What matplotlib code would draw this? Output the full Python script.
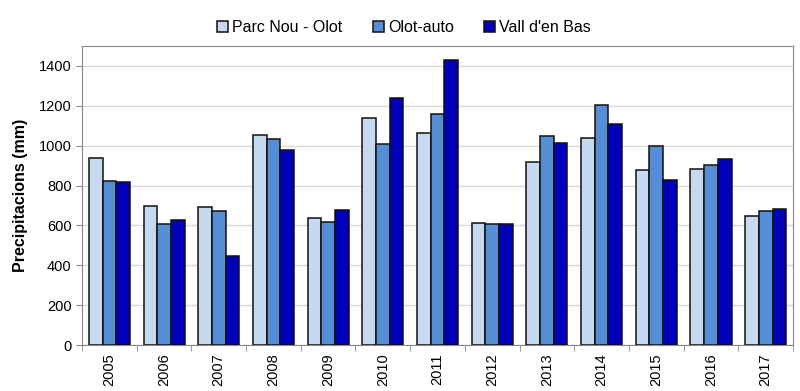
import matplotlib

matplotlib.use("Agg")

import matplotlib.pyplot as plt  # noqa: E402
import numpy as np  # noqa: E402

plt.rcParams["font.family"] = ["Liberation Sans", "DejaVu Sans"]

years = ["2005", "2006", "2007", "2008", "2009", "2010", "2011",
         "2012", "2013", "2014", "2015", "2016", "2017"]
parc_nou = [940, 699, 694, 1055, 639, 1139, 1064, 612, 917, 1039, 878, 883, 647]
olot_auto = [823, 605, 671, 1035, 619, 1007, 1157, 605, 1049, 1204, 998, 905, 674]
vall_en_bas = [816, 625, 448, 978, 677, 1241, 1432, 605, 1014, 1107, 828, 935, 684]

series = [
    ("Parc Nou - Olot", parc_nou, "#c6d9f1"),
    ("Olot-auto", olot_auto, "#558ed5"),
    ("Vall d'en Bas", vall_en_bas, "#0000bb"),
]

fig = plt.figure(figsize=(8, 3.91), dpi=100)
ax = fig.add_axes([0.1025, 0.1176, 0.8888, 0.7647])

x = np.arange(len(years))
width = 0.25
for i, (name, values, color) in enumerate(series):
    ax.bar(x + (i - 1) * width, values, width, color=color, edgecolor="#111111",
           linewidth=1.1, label=name, zorder=3)

ax.set_xlim(-0.5, len(years) - 0.5)
ax.set_ylim(0, 1500)
ax.set_yticks(range(0, 1401, 200))
ax.yaxis.grid(True, color="#d9d9d9", linewidth=1.0, zorder=0)
ax.tick_params(axis="y", labelsize=10.5, length=4, color="#888888")

ax.set_xticks(x)
ax.set_xticklabels(years, rotation=90, fontsize=10.5)
ax.tick_params(axis="x", which="major", length=0, pad=6)
ax.set_xticks(np.arange(-0.5, len(years), 1), minor=True)
ax.tick_params(axis="x", which="minor", length=4, color="#888888")

for side in ["top", "right", "left", "bottom"]:
    ax.spines[side].set_color("#888888")

ax.set_ylabel("Precipitacions (mm)", fontsize=11.5, fontweight="bold", labelpad=8)

fig.legend(loc="upper center", bbox_to_anchor=(0.505, 0.985), ncol=3, frameon=False,
           fontsize=11.5, handlelength=0.7, handleheight=0.7, handletextpad=0.25,
           columnspacing=1.9)

fig.savefig("out.png", dpi=100)
